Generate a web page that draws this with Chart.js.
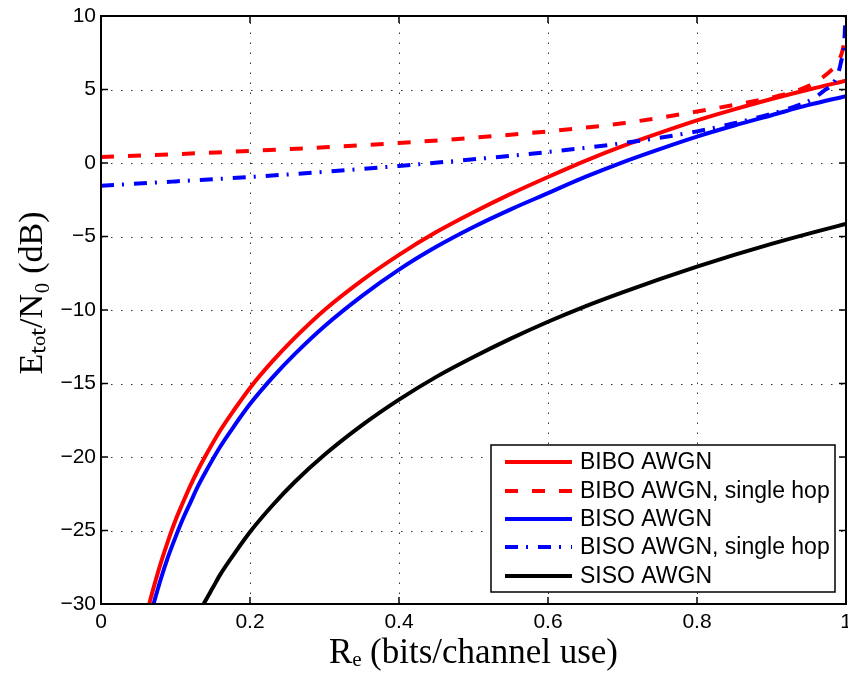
<!DOCTYPE html>
<html><head><meta charset="utf-8">
<script src="https://cdn.jsdelivr.net/npm/chart.js@4.4.0/dist/chart.umd.min.js"></script>
<style>html,body{margin:0;padding:0;background:#fff;}#wrap{width:848px;height:677px;}</style>
</head><body><div id="wrap"><canvas id="c" width="848" height="677"></canvas></div>
<script>
// ---- data ----
const xTicks = [0, 0.2, 0.4, 0.6, 0.8, 1];
const yTicks = [-30, -25, -20, -15, -10, -5, 0, 5, 10];
const seriesLabels = ["BIBO AWGN", "BIBO AWGN, single hop", "BISO AWGN", "BISO AWGN, single hop", "SISO AWGN"];

const biboR = [0.06, 0.065, 0.07, 0.08, 0.09, 0.1, 0.11, 0.12, 0.13, 0.14, 0.16, 0.18, 0.2, 0.23, 0.26, 0.3, 0.35, 0.4, 0.45, 0.5, 0.55, 0.6, 0.65, 0.7, 0.75, 0.8, 0.85, 0.9, 0.95, 1.0];
const biboE = [-31.0, -29.95, -29.0, -27.25, -25.7, -24.3, -23.1, -21.95, -20.9, -19.95, -18.2, -16.7, -15.3, -13.5, -11.9, -10.0, -8.0, -6.25, -4.7, -3.35, -2.1, -0.95, 0.15, 1.15, 2.05, 2.9, 3.65, 4.35, 5.0, 5.6];

const biboShR = [0, 0.1, 0.2, 0.3, 0.4, 0.5, 0.6, 0.7, 0.8, 0.85, 0.9, 0.93, 0.95, 0.965, 0.98, 0.99, 0.996, 1.0];
const biboShE = [0.4, 0.6, 0.82, 1.07, 1.36, 1.72, 2.15, 2.7, 3.5, 3.95, 4.45, 4.85, 5.25, 5.7, 6.3, 6.9, 7.8, 9.0];

const bisoR = [0.065, 0.07, 0.08, 0.09, 0.1, 0.11, 0.12, 0.13, 0.14, 0.16, 0.18, 0.2, 0.23, 0.26, 0.3, 0.35, 0.4, 0.45, 0.5, 0.55, 0.6, 0.65, 0.7, 0.75, 0.8, 0.85, 0.9, 0.95, 1.0];
const bisoE = [-31.05, -30.1, -28.35, -26.8, -25.45, -24.2, -23.1, -22.0, -21.05, -19.3, -17.8, -16.4, -14.6, -13.0, -11.1, -9.05, -7.25, -5.7, -4.35, -3.15, -2.05, -0.95, 0.05, 0.95, 1.8, 2.55, 3.25, 3.95, 4.55];

const bisoShR = [0, 0.1, 0.2, 0.3, 0.4, 0.5, 0.6, 0.7, 0.8, 0.85, 0.9, 0.94, 0.955, 0.97, 0.985, 0.993, 0.998, 1.0];
const bisoShE = [-1.55, -1.25, -0.95, -0.6, -0.2, 0.25, 0.75, 1.35, 2.15, 2.7, 3.35, 4.0, 4.35, 4.9, 5.6, 6.8, 8.5, 11.0];

const sisoR = [0.13, 0.14, 0.15, 0.16, 0.18, 0.2, 0.23, 0.26, 0.3, 0.35, 0.4, 0.45, 0.5, 0.55, 0.6, 0.65, 0.7, 0.75, 0.8, 0.85, 0.9, 0.95, 1.0];
const sisoE = [-30.75, -29.8, -28.9, -28.0, -26.5, -25.1, -23.3, -21.7, -19.85, -17.85, -16.1, -14.55, -13.2, -11.95, -10.8, -9.75, -8.8, -7.9, -7.05, -6.25, -5.5, -4.8, -4.15];

// ---- build ----
const pts = (xs, ys) => xs.map((x, i) => ({x: x, y: ys[i]}));
const styles = [
  {color: '#ff0000', dash: []},
  {color: '#ff0000', dash: [13, 14]},
  {color: '#0000ff', dash: []},
  {color: '#0000ff', dash: [13, 8, 2, 10]},
  {color: '#000000', dash: []}
];
const seriesData = [pts(biboR, biboE), pts(biboShR, biboShE), pts(bisoR, bisoE), pts(bisoShR, bisoShE), pts(sisoR, sisoE)];
const datasets = seriesData.map((d, i) => ({
  label: seriesLabels[i],
  data: d,
  borderColor: styles[i].color,
  backgroundColor: styles[i].color,
  borderDash: styles[i].dash,
  borderWidth: 4,
  pointRadius: 0,
  fill: false,
  cubicInterpolationMode: 'monotone',
  order: 4 - i
}));

const SANS = '"Liberation Sans", Arial, Helvetica, sans-serif';
const SERIF = '"Liberation Serif", "Times New Roman", serif';

const framePlugin = {
  id: 'frame',
  beforeDatasetsDraw(chart) {
    const {ctx, chartArea: a, scales: {x, y}} = chart;
    ctx.save();
    ctx.strokeStyle = 'rgba(0,0,0,0.8)';
    ctx.lineWidth = 1;
    ctx.setLineDash([1.5, 8.5]);
    xTicks.forEach(v => {
      const px = Math.round(x.getPixelForValue(v)) + 0.5;
      ctx.beginPath(); ctx.moveTo(px, a.bottom); ctx.lineTo(px, a.top); ctx.stroke();
    });
    yTicks.forEach(v => {
      const py = Math.round(y.getPixelForValue(v)) + 0.5;
      ctx.beginPath(); ctx.moveTo(a.left, py); ctx.lineTo(a.right, py); ctx.stroke();
    });
    ctx.restore();
  },
  afterDatasetsDraw(chart) {
    const {ctx, chartArea: a, scales: {x, y}} = chart;
    ctx.save();
    ctx.setLineDash([]);
    ctx.strokeStyle = '#000';
    ctx.lineWidth = 1.5;
    const tl = 7;
    xTicks.forEach(v => {
      const px = x.getPixelForValue(v);
      ctx.beginPath(); ctx.moveTo(px, a.bottom); ctx.lineTo(px, a.bottom - tl); ctx.stroke();
      ctx.beginPath(); ctx.moveTo(px, a.top); ctx.lineTo(px, a.top + tl); ctx.stroke();
    });
    yTicks.forEach(v => {
      const py = y.getPixelForValue(v);
      ctx.beginPath(); ctx.moveTo(a.left, py); ctx.lineTo(a.left + tl, py); ctx.stroke();
      ctx.beginPath(); ctx.moveTo(a.right, py); ctx.lineTo(a.right - tl, py); ctx.stroke();
    });
    ctx.lineWidth = 2;
    ctx.strokeRect(a.left, a.top, a.right - a.left, a.bottom - a.top);

    // legend box (inside plot, lower right)
    const bx = 491, by = 445, bw = 344, bh = 147;
    ctx.fillStyle = '#fff';
    ctx.fillRect(bx, by, bw, bh);
    ctx.lineWidth = 1.5;
    ctx.strokeStyle = '#000';
    ctx.strokeRect(bx, by, bw, bh);
    const rowY = [462, 491, 519, 547, 576];
    ctx.font = '23px ' + SANS;
    ctx.textBaseline = 'middle';
    ctx.textAlign = 'left';
    chart.data.datasets.forEach((ds, i) => {
      const yy = rowY[i];
      ctx.save();
      ctx.strokeStyle = ds.borderColor;
      ctx.lineWidth = ds.borderWidth;
      ctx.setLineDash(ds.borderDash);
      ctx.beginPath(); ctx.moveTo(505, yy); ctx.lineTo(572, yy); ctx.stroke();
      ctx.restore();
      ctx.fillStyle = '#000';
      ctx.fillText(ds.label, 580, yy + 1);
    });
    ctx.restore();
  }
};

new Chart(document.getElementById('c'), {
  type: 'line',
  data: {datasets: datasets},
  options: {
    responsive: false,
    devicePixelRatio: 1,
    animation: false,
    layout: {padding: {top: 16, right: 2, left: 0, bottom: 0}},
    plugins: {legend: {display: false}, tooltip: {enabled: false}},
    scales: {
      x: {
        type: 'linear', min: 0, max: 1,
        afterBuildTicks: s => { s.ticks = xTicks.map(v => ({value: v})); },
        afterFit: s => { s.height = 73; s.paddingLeft = 0; s.paddingRight = 0; },
        grid: {display: false, drawTicks: false},
        border: {display: false},
        ticks: {
          padding: 6, color: '#000', font: {family: SANS, size: 21}, maxRotation: 0,
          callback: v => String(+v.toFixed(1))
        },
        title: {display: true, text: 'R\u2091 (bits/channel use)', color: '#000',
          font: {family: SERIF, size: 35}, padding: {top: 0, bottom: 2}}
      },
      y: {
        type: 'linear', min: -30, max: 10,
        afterBuildTicks: s => { s.ticks = yTicks.map(v => ({value: v})); },
        afterFit: s => { s.width = 101; s.paddingTop = 0; s.paddingBottom = 0; },
        grid: {display: false, drawTicks: false},
        border: {display: false},
        ticks: {
          padding: 5, color: '#000', font: {family: SANS, size: 21},
          callback: v => (v < 0 ? '\u2212' + Math.abs(v) : String(v))
        },
        title: {display: true, text: '\u2003E\u209c\u2092\u209c/N\u2080 (dB)', color: '#000',
          font: {family: SERIF, size: 34}, padding: {top: 13, bottom: 0}}
      }
    }
  },
  plugins: [framePlugin]
});
</script>
</body></html>
